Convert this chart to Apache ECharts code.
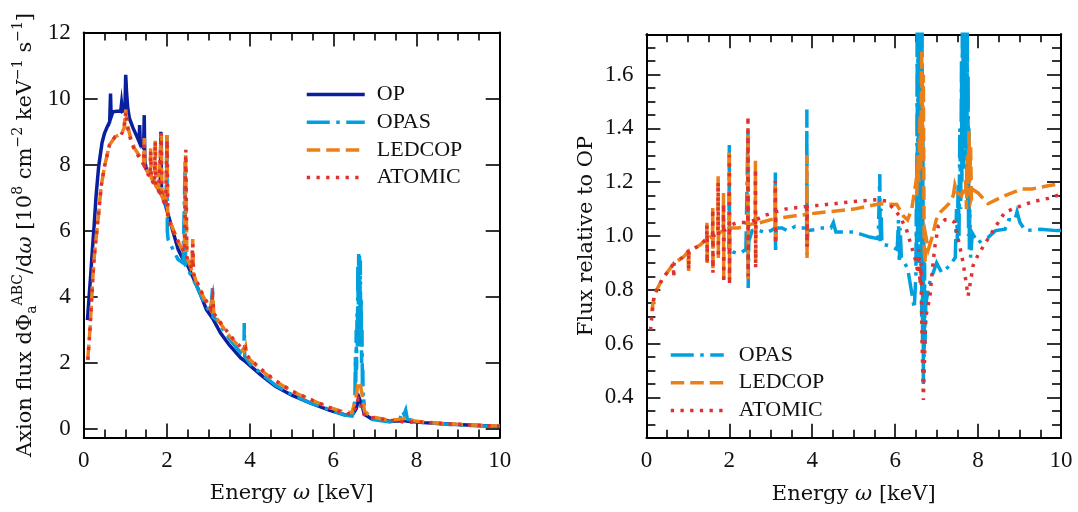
<!DOCTYPE html>
<html>
<head>
<meta charset="utf-8">
<script src="https://cdn.jsdelivr.net/npm/echarts@6/dist/echarts.min.js"></script>
<style>
  html, body { margin: 0; padding: 0; background: #fff; }
  #chart { width: 1078px; height: 512px; }
</style>
</head>
<body>
<div id="chart"></div>
<script>
// Axion flux spectrum (left) and flux ratios to OP (right), energy in keV.

// Left panel: flux in 10^8 cm^-2 keV^-1 s^-1, as [energy, flux]
const opFlux = [
  [0.09,3.3],[0.13,4.0],[0.17,4.7],[0.21,5.45],[0.25,6.14],[0.3,7.1],[0.36,7.95],[0.44,8.66],
  [0.5,8.95],[0.57,9.16],[0.625,9.3],[0.645,10.15],[0.66,9.45],[0.7,9.6],[0.8,9.62],[0.89,9.62],
  [0.91,9.85],[0.93,9.62],[0.99,9.66],[1.01,10.72],[1.03,10.2],[1.045,10.25],[1.06,9.7],[1.1,9.4],
  [1.19,9.1],[1.28,8.85],[1.33,8.7],[1.345,9.2],[1.36,8.65],[1.44,8.5],[1.455,9.5],[1.47,8.1],
  [1.51,7.85],[1.63,7.65],[1.75,7.35],[1.84,7.18],[1.855,9.0],[1.87,7.14],[1.96,6.8],[2.11,6.14],
  [2.27,5.44],[2.4,5.1],[2.5,4.95],[2.62,4.62],[2.8,4.1],[2.95,3.62],[3.1,3.35],[3.29,2.91],
  [3.5,2.55],[3.78,2.15],[3.86,2.08],[4.02,1.9],[4.3,1.6],[4.61,1.3],[5.0,1.03],[5.44,0.8],
  [5.9,0.58],[6.27,0.44],[6.45,0.42],[6.55,0.62],[6.62,0.95],[6.68,0.75],[6.75,0.45],[6.9,0.33],
  [7.36,0.24],[7.7,0.26],[7.8,0.24],[8.16,0.2],[8.96,0.14],[9.5,0.11],[10,0.08]
];

const opasFlux = [
  [1.98,6.7],[2.0,8.94],[2.01,6.0],[2.03,5.73],[2.15,5.43],[2.27,5.13],[2.39,5.03],[2.43,5.0],
  [2.44,8.15],[2.45,4.95],[2.5,4.85],[2.6,4.6],[2.71,4.35],[2.87,3.9],[3.05,3.5],[3.09,3.45],
  [3.1,4.32],[3.11,3.4],[3.2,3.3],[3.51,2.72],[3.78,2.3],[3.85,2.25],[3.86,3.21],[3.87,2.2],
  [4.02,1.95],[4.3,1.65],[4.61,1.33],[5.0,1.05],[5.44,0.8],[5.62,0.72],[5.64,0.78],[5.66,0.7],
  [5.9,0.6],[6.27,0.43],[6.45,0.4],[6.5,0.6],[6.52,1.0],[6.53,2.2],[6.54,1.2],[6.55,3.0],
  [6.56,1.8],[6.57,3.5],[6.58,2.5],[6.59,5.0],[6.6,3.0],[6.61,5.3],[6.62,4.0],[6.63,5.25],
  [6.64,3.5],[6.65,5.1],[6.66,2.5],[6.67,4.0],[6.68,2.0],[6.69,3.0],[6.7,1.2],[6.71,1.8],
  [6.72,0.6],[6.73,0.9],[6.78,0.4],[6.9,0.3],[7.36,0.22],[7.6,0.3],[7.66,0.55],[7.7,0.45],
  [7.74,0.58],[7.78,0.3],[8.16,0.2],[8.96,0.13],[10,0.08]
];

const ledcopFlux = [
  [0.1,2.15],[0.15,3.0],[0.19,3.9],[0.22,4.6],[0.26,5.3],[0.3,5.8],[0.36,6.54],[0.42,7.35],
  [0.5,7.95],[0.62,8.6],[0.75,8.84],[0.9,8.94],[0.97,9.1],[1.01,9.67],[1.05,9.2],[1.14,8.76],
  [1.22,8.5],[1.35,8.25],[1.44,8.05],[1.455,8.81],[1.47,7.95],[1.55,7.75],[1.6,7.7],[1.61,8.5],
  [1.625,7.6],[1.7,7.45],[1.72,8.76],[1.735,7.35],[1.8,7.25],[1.865,8.95],[1.88,7.05],[1.97,6.8],
  [2.005,8.9],[2.02,6.4],[2.1,6.2],[2.2,5.9],[2.3,5.6],[2.42,5.35],[2.45,8.3],[2.48,5.2],
  [2.6,4.8],[2.62,5.75],[2.64,4.7],[2.71,4.45],[2.87,4.02],[3.05,3.62],[3.1,4.02],[3.13,3.45],
  [3.2,3.35],[3.51,2.8],[3.85,2.35],[3.89,2.5],[3.92,2.2],[4.0,2.1],[4.3,1.75],[4.61,1.45],
  [5.0,1.15],[5.44,0.9],[5.9,0.66],[6.27,0.52],[6.45,0.5],[6.55,1.0],[6.6,1.45],[6.65,1.35],
  [6.7,1.0],[6.75,0.55],[6.9,0.38],[7.36,0.27],[7.65,0.3],[7.8,0.36],[7.9,0.26],[8.16,0.22],
  [8.96,0.15],[10,0.09]
];

const atomicFlux = [
  [0.1,2.1],[0.15,3.0],[0.19,3.9],[0.22,4.6],[0.26,5.3],[0.3,5.8],[0.36,6.54],[0.42,7.35],
  [0.5,7.95],[0.62,8.6],[0.75,8.84],[0.9,8.9],[0.97,9.1],[1.01,9.6],[1.05,9.15],[1.14,8.7],
  [1.22,8.45],[1.35,8.2],[1.44,8.0],[1.455,8.7],[1.47,7.9],[1.55,7.7],[1.6,7.65],[1.61,8.4],
  [1.625,7.55],[1.7,7.4],[1.72,8.7],[1.735,7.3],[1.8,7.2],[1.865,8.95],[1.88,7.0],[1.97,6.75],
  [2.005,8.75],[2.02,6.35],[2.1,6.15],[2.2,5.85],[2.3,5.6],[2.42,5.35],[2.455,8.45],[2.48,5.2],
  [2.6,4.85],[2.62,5.6],[2.64,4.7],[2.71,4.5],[2.87,4.05],[3.05,3.65],[3.1,4.0],[3.13,3.5],
  [3.2,3.38],[3.51,2.85],[3.85,2.38],[3.89,2.45],[3.92,2.25],[4.0,2.12],[4.3,1.78],[4.61,1.47],
  [5.0,1.16],[5.44,0.91],[5.9,0.66],[6.27,0.48],[6.45,0.45],[6.55,0.7],[6.6,0.93],[6.65,0.85],
  [6.68,0.5],[6.72,0.45],[6.8,0.4],[6.9,0.36],[7.36,0.27],[7.6,0.24],[7.76,0.2],[7.9,0.22],
  [8.16,0.21],[8.96,0.15],[10,0.09]
];

// Right panel: flux relative to OP, as [energy, ratio]
const opasRatio = [
  [1.99,0.95],[2.0,1.346],[2.005,0.93],[2.02,0.95],[2.1,0.94],[2.2,0.935],[2.3,0.94],[2.4,0.95],
  [2.445,0.95],[2.45,1.39],[2.455,0.807],[2.47,0.98],[2.55,1.02],[2.67,1.024],[2.87,1.012],[3.0,1.02],
  [3.105,1.03],[3.11,1.24],[3.115,0.937],[3.13,1.03],[3.27,1.03],[3.4,1.02],[3.59,1.036],[3.7,1.03],
  [3.865,1.03],[3.87,1.47],[3.875,0.93],[3.89,1.02],[4.07,1.024],[4.19,1.03],[4.45,1.03],[4.51,1.05],
  [4.57,1.015],[5.0,1.015],[5.39,0.996],[5.59,0.99],[5.62,0.99],[5.63,1.23],[5.64,0.97],[5.66,1.1],
  [5.68,0.97],[5.87,0.963],[6.05,0.95],[6.08,1.06],[6.1,0.9],[6.12,1.03],[6.15,0.92],[6.3,0.88],
  [6.42,0.77],[6.46,0.73],[6.5,0.855],[6.51,1.1],[6.52,0.9],[6.53,1.8],[6.54,1.0],[6.55,1.8],
  [6.56,1.2],[6.57,1.8],[6.58,0.9],[6.59,1.8],[6.6,1.3],[6.61,1.8],[6.62,1.0],[6.63,1.8],
  [6.64,0.7],[6.65,1.8],[6.66,0.6],[6.67,1.4],[6.68,0.45],[6.69,1.0],[6.7,0.55],[6.71,0.9],
  [6.72,0.6],[6.74,0.75],[6.8,0.8],[6.84,0.83],[7.0,0.9],[7.12,0.864],[7.32,0.89],[7.45,0.92],
  [7.48,1.1],[7.5,0.98],[7.52,1.2],[7.54,1.0],[7.56,1.4],[7.58,1.1],[7.6,1.65],[7.61,1.2],
  [7.62,1.8],[7.63,1.3],[7.64,1.8],[7.65,1.25],[7.66,1.8],[7.67,1.4],[7.68,1.8],[7.69,1.3],
  [7.7,1.8],[7.71,1.35],[7.72,1.8],[7.73,1.2],[7.74,1.8],[7.75,1.1],[7.76,1.6],[7.77,1.0],
  [7.78,1.4],[7.79,0.95],[7.8,1.1],[7.82,0.92],[7.86,1.011],[8.0,0.974],[8.1,0.985],[8.24,0.994],
  [8.42,1.02],[8.65,1.025],[8.74,1.06],[8.89,1.06],[8.94,1.09],[9.01,1.05],[9.14,1.02],[9.5,1.025],
  [9.9,1.02],[10,1.02]
];

const ledcopRatio = [
  [0.13,0.72],[0.18,0.77],[0.25,0.8],[0.375,0.837],[0.5,0.864],[0.66,0.898],[0.9,0.923],[1.0,0.94],
  [1.015,0.945],[1.02,0.87],[1.025,0.94],[1.1,0.949],[1.3,0.967],[1.455,0.99],[1.46,1.049],[1.465,0.9],
  [1.47,0.99],[1.595,1.0],[1.6,1.104],[1.605,0.87],[1.61,1.0],[1.725,1.01],[1.73,1.228],[1.735,0.918],
  [1.74,1.01],[1.855,1.02],[1.86,1.16],[1.865,0.84],[1.87,1.02],[1.995,1.03],[2.0,1.32],[2.005,0.84],
  [2.01,1.03],[2.22,1.03],[2.445,1.04],[2.45,1.38],[2.455,0.84],[2.46,1.04],[2.55,1.045],[2.625,1.045],
  [2.63,1.28],[2.635,0.9],[2.64,1.045],[3.105,1.065],[3.11,1.19],[3.115,0.98],[3.12,1.065],[3.59,1.075],
  [3.865,1.08],[3.87,1.3],[3.875,0.918],[3.88,1.08],[4.07,1.085],[5.0,1.1],[5.63,1.12],[6.04,1.117],
  [6.2,1.074],[6.3,1.06],[6.4,1.1],[6.5,1.2],[6.52,1.15],[6.55,1.3],[6.57,1.2],[6.6,1.45],
  [6.62,1.25],[6.64,1.69],[6.66,1.3],[6.68,1.6],[6.7,0.95],[6.72,0.9],[6.74,1.0],[6.8,0.95],
  [6.9,1.0],[6.99,1.06],[7.1,1.09],[7.28,1.117],[7.4,1.15],[7.44,1.19],[7.5,1.16],[7.6,1.15],
  [7.7,1.2],[7.72,1.1],[7.74,1.3],[7.76,1.15],[7.78,1.39],[7.8,1.2],[7.82,1.33],[7.84,1.14],
  [7.9,1.17],[8.0,1.16],[8.24,1.12],[8.57,1.145],[9.05,1.175],[9.3,1.175],[9.69,1.187],[10,1.195]
];

const atomicRatio = [
  [0.1,0.65],[0.13,0.7],[0.18,0.77],[0.25,0.8],[0.375,0.837],[0.5,0.864],[0.65,0.895],[0.66,0.845],
  [0.67,0.9],[0.9,0.923],[1.0,0.94],[1.015,0.95],[1.02,0.875],[1.025,0.94],[1.1,0.949],[1.3,0.967],
  [1.455,0.99],[1.46,1.04],[1.465,0.9],[1.47,0.99],[1.595,1.0],[1.6,1.1],[1.605,0.863],[1.61,1.0],
  [1.725,1.01],[1.73,1.2],[1.735,0.92],[1.74,1.01],[1.855,1.02],[1.86,1.12],[1.865,0.825],[1.87,1.02],
  [1.995,1.03],[2.0,1.3],[2.005,0.818],[2.01,1.04],[2.2,1.05],[2.445,1.05],[2.45,1.445],[2.455,0.85],
  [2.46,1.05],[2.625,1.06],[2.63,1.25],[2.635,0.88],[2.64,1.06],[2.87,1.077],[3.105,1.09],[3.11,1.205],
  [3.115,0.97],[3.12,1.09],[3.35,1.1],[3.865,1.11],[3.87,1.12],[3.875,0.96],[3.88,1.11],[4.1,1.113],
  [5.0,1.128],[5.55,1.135],[5.8,1.13],[5.87,1.117],[6.11,1.074],[6.27,1.025],[6.39,0.963],[6.51,0.9],
  [6.55,0.86],[6.57,0.95],[6.6,0.82],[6.62,0.9],[6.65,0.6],[6.68,0.39],[6.7,0.5],[6.74,0.7],
  [6.84,0.777],[6.9,0.88],[6.96,0.963],[7.04,1.037],[7.2,1.06],[7.35,1.06],[7.44,1.05],[7.52,0.99],
  [7.64,0.9],[7.76,0.777],[7.88,0.89],[8.0,0.93],[8.16,0.97],[8.4,1.03],[8.65,1.089],[9.0,1.11],
  [9.29,1.126],[9.69,1.14],[10,1.155]
];

// Tick values
const fluxTicks = [0, 2, 4, 6, 8, 10, 12];
const ratioTicks = [0.4, 0.6, 0.8, 1.0, 1.2, 1.4, 1.6];
const ratioMinorTicks = [0.25,0.3,0.35,0.45,0.5,0.55,0.65,0.7,0.75,0.85,0.9,0.95,1.05,1.1,1.15,
  1.25,1.3,1.35,1.45,1.5,1.55,1.65,1.7,1.75];

const FONT = 'Liberation Serif';
const NAME_FONT = 'DejaVu Serif';
const INK = '#111';

const styles = {
  OP:     { color: '#0a1f9f', type: 'solid' },
  OPAS:   { color: '#00a0df', type: [23, 6.5, 3.5, 6.5] },
  LEDCOP: { color: '#ec8018', type: [13.5, 6] },
  ATOMIC: { color: '#e03131', type: [3.3, 6.4] }
};
const LINE_W = 3.5;

function lineSeries(name, data, xIdx, yIdx) {
  const s = styles[name];
  return {
    type: 'line', name, data,
    xAxisIndex: xIdx, yAxisIndex: yIdx,
    symbol: 'none', showSymbol: false, animation: false, clip: true,
    lineStyle: { color: s.color, width: LINE_W, type: s.type, cap: 'butt', join: 'miter' },
    itemStyle: { color: s.color },
    emphasis: { disabled: true }
  };
}

const axisLine = { show: true, onZero: false, lineStyle: { color: '#000', width: 2 } };
const tickLine = { color: '#000', width: 1.6 };
const NAME_SIZE = 21;
const TICK_SIZE = 23;

function energyAxis(gridIndex, position, labels) {
  return {
    type: 'value', gridIndex, position, min: 0, max: 10, interval: 2,
    axisLine,
    axisTick: { show: true, inside: true, length: 14, lineStyle: tickLine },
    minorTick: { show: true, splitNumber: 4, length: 8, lineStyle: tickLine },
    axisLabel: { show: labels, margin: 12, fontFamily: FONT, fontSize: TICK_SIZE, color: INK },
    splitLine: { show: false }, minorSplitLine: { show: false },
    name: labels ? 'Energy {i|ω} [keV]' : '',
    nameLocation: 'middle', nameGap: 46,
    nameTextStyle: {
      fontFamily: NAME_FONT, fontSize: NAME_SIZE, color: INK,
      rich: { i: { fontFamily: NAME_FONT, fontSize: NAME_SIZE, fontStyle: 'italic', color: INK } }
    }
  };
}

function valueAxis(gridIndex, position, min, max, ticks, tickLen, labels, fmt, name, nameGap, rich) {
  return {
    type: 'value', gridIndex, position, min, max,
    axisLine,
    axisTick: { show: true, inside: true, length: tickLen, customValues: ticks, lineStyle: tickLine },
    axisLabel: labels
      ? { show: true, customValues: ticks, margin: 13, fontFamily: FONT, fontSize: TICK_SIZE, color: INK, formatter: fmt }
      : { show: false },
    splitLine: { show: false },
    name: name || '', nameLocation: 'middle', nameGap: nameGap || 0,
    nameTextStyle: { fontFamily: NAME_FONT, fontSize: NAME_SIZE, color: INK, rich: rich || {} }
  };
}

const t = { fontFamily: NAME_FONT, fontSize: NAME_SIZE, color: INK, lineHeight: 28 };
const sup = { fontFamily: NAME_FONT, fontSize: 14, color: INK, lineHeight: 14, verticalAlign: 'top' };
const sub = { fontFamily: NAME_FONT, fontSize: 14, color: INK, lineHeight: 14, verticalAlign: 'bottom' };
const it = Object.assign({}, t, { fontStyle: 'italic' });

const fluxName = '{t|Axion flux d}{t|Φ}{sub|a}{sup|ABC}{t|/d}{i|ω}{t| [10}{sup|8}{t| cm}{sup|−2}' +
  '{t| keV}{sup|−1}{t| s}{sup|−1}{t|]}';

const legendText = { fontFamily: FONT, fontSize: 22, color: INK, lineHeight: 20 };
const legendBase = {
  orient: 'vertical', itemHeight: 14, itemGap: 5.7, selectedMode: false,
  itemStyle: { opacity: 0 },
  lineStyle: { width: LINE_W }
};

const chart = echarts.init(document.getElementById('chart'), null, { renderer: 'canvas' });
chart.setOption({
  backgroundColor: '#fff',
  animation: false,
  grid: [
    { left: 83.7, top: 32.5, width: 416, height: 405, outerBoundsMode: 'none', containLabel: false },
    { left: 646.4, top: 34.3, width: 414.6, height: 403.4, outerBoundsMode: 'none', containLabel: false }
  ],
  xAxis: [
    energyAxis(0, 'bottom', true),
    energyAxis(0, 'top', false),
    energyAxis(1, 'bottom', true),
    energyAxis(1, 'top', false)
  ],
  yAxis: [
    valueAxis(0, 'left', -0.25, 12, fluxTicks, 14, true, v => String(v), fluxName, 44,
      { t, sup, sub, i: it }),
    valueAxis(1, 'left', 0.25, 1.75, ratioTicks, 14, true, v => v.toFixed(1), 'Flux relative to OP', 49),
    valueAxis(0, 'right', -0.25, 12, fluxTicks, 14, false),
    valueAxis(1, 'left', 0.25, 1.75, ratioMinorTicks, 9, false),
    valueAxis(1, 'right', 0.25, 1.75, ratioTicks, 14, false),
    valueAxis(1, 'right', 0.25, 1.75, ratioMinorTicks, 9, false)
  ],
  legend: [
    Object.assign({
      data: ['OP', 'OPAS', 'LEDCOP', 'ATOMIC'], left: 300, top: 78.5, itemWidth: 58,
      textStyle: Object.assign({ padding: [0, 0, 0, 7] }, legendText)
    }, legendBase),
    Object.assign({
      data: ['OPAS', 'LEDCOP', 'ATOMIC'], left: 664, top: 339, itemWidth: 53,
      textStyle: Object.assign({ padding: [0, 0, 0, 10] }, legendText)
    }, legendBase)
  ],
  series: [
    lineSeries('OP', opFlux, 0, 0),
    lineSeries('OPAS', opasFlux, 0, 0),
    lineSeries('LEDCOP', ledcopFlux, 0, 0),
    lineSeries('ATOMIC', atomicFlux, 0, 0),
    lineSeries('OPAS', opasRatio, 2, 1),
    lineSeries('LEDCOP', ledcopRatio, 2, 1),
    lineSeries('ATOMIC', atomicRatio, 2, 1)
  ]
});
</script>
</body>
</html>
